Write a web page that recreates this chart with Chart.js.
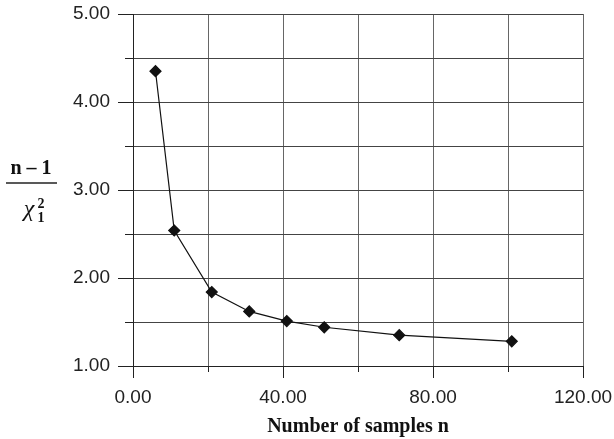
<!DOCTYPE html>
<html>
<head>
<meta charset="utf-8">
<script src="https://cdn.jsdelivr.net/npm/chart.js@4/dist/chart.umd.min.js"></script>
<style>
  html, body { margin: 0; padding: 0; background: #fff; }
  #wrap { position: relative; width: 614px; height: 439px; }
</style>
</head>
<body>
<div id="wrap"><canvas id="c" width="614" height="439"></canvas></div>
<script>
// Data
const sampleSizes = [6, 11, 21, 31, 41, 51, 71, 101];
const ratioValues = [4.35, 2.54, 1.84, 1.62, 1.51, 1.44, 1.35, 1.28];
const xLabelledTicks = [0, 40, 80, 120];
const yLabelledTicks = [1, 2, 3, 4, 5];
const xTitle = 'Number of samples n';
const yTitleTop = 'n \u2013 1';

const points = sampleSizes.map((x, i) => ({ x: x, y: ratioValues[i] }));

const tickPlugin = {
  id: 'customTicks',
  afterDraw(chart) {
    const ctx = chart.ctx;
    const xs = chart.scales.x, ys = chart.scales.y;
    const area = chart.chartArea;
    ctx.save();
    ctx.strokeStyle = '#222';
    ctx.lineWidth = 1;
    ys.ticks.forEach(t => {
      const py = Math.round(ys.getPixelForValue(t.value)) + 0.5;
      const major = yLabelledTicks.includes(t.value);
      const len = major ? 15 : 8;
      ctx.beginPath();
      ctx.moveTo(area.left - len, py);
      ctx.lineTo(area.left, py);
      ctx.stroke();
    });
    xs.ticks.forEach(t => {
      const px = Math.round(xs.getPixelForValue(t.value)) + 0.5;
      const major = xLabelledTicks.includes(t.value);
      const len = major ? 12 : 6;
      ctx.beginPath();
      ctx.moveTo(px, area.bottom);
      ctx.lineTo(px, area.bottom + len);
      ctx.stroke();
    });
    // Y-axis title as a fraction
    const cx = 31;
    const cy = (area.top + area.bottom) / 2;
    ctx.fillStyle = '#111';
    ctx.textAlign = 'center';
    ctx.textBaseline = 'middle';
    ctx.font = 'bold 20px "Liberation Serif", "Times New Roman", serif';
    ctx.fillText(yTitleTop, cx, cy - 21);
    ctx.beginPath();
    ctx.lineWidth = 1.4;
    ctx.moveTo(cx - 25, cy - 7);
    ctx.lineTo(cx + 26, cy - 7);
    ctx.stroke();
    ctx.font = 'italic 24px "Liberation Serif", "Times New Roman", serif';
    ctx.fillText('\u03C7', cx - 2, cy + 20);
    ctx.font = 'bold 14px "Liberation Serif", "Times New Roman", serif';
    ctx.fillText('2', cx + 10, cy + 14);
    ctx.fillText('1', cx + 10, cy + 28);
    ctx.restore();
  }
};

new Chart(document.getElementById('c'), {
  type: 'scatter',
  data: {
    datasets: [{
      data: points,
      showLine: true,
      borderColor: '#111',
      borderWidth: 1.2,
      backgroundColor: '#111',
      pointStyle: 'rectRot',
      pointRadius: 5.5,
      pointHoverRadius: 5.5,
      tension: 0
    }]
  },
  options: {
    responsive: false,
    animation: false,
    devicePixelRatio: 1,
    layout: { padding: { top: 14, right: 31, left: 0, bottom: 0 } },
    plugins: {
      legend: { display: false },
      tooltip: { enabled: false }
    },
    scales: {
      x: {
        type: 'linear',
        min: 0, max: 120,
        ticks: {
          stepSize: 20,
          autoSkip: false,
          maxRotation: 0,
          padding: 20,
          color: '#222',
          font: { family: '"Liberation Sans", Arial, sans-serif', size: 19 },
          callback: v => xLabelledTicks.includes(v) ? v.toFixed(2) : ''
        },
        grid: { color: '#666', lineWidth: 1, drawTicks: false },
        border: { color: '#222', width: 1 },
        title: {
          display: true,
          text: xTitle,
          color: '#111',
          font: { family: '"Liberation Serif", "Times New Roman", serif', size: 20, weight: 'bold' },
          padding: { top: 6, bottom: 0 }
        },
        afterFit(s) { s.height = 73; s.paddingLeft = 0; s.paddingRight = 0; }
      },
      y: {
        type: 'linear',
        min: 1, max: 5,
        ticks: {
          stepSize: 0.5,
          autoSkip: false,
          padding: 23,
          color: '#222',
          font: { family: '"Liberation Sans", Arial, sans-serif', size: 19 },
          callback: v => yLabelledTicks.includes(v) ? v.toFixed(2) : ''
        },
        grid: { color: '#444', lineWidth: 1, drawTicks: false },
        border: { color: '#222', width: 1 },
        afterFit(s) { s.width = 133; s.paddingTop = 0; s.paddingBottom = 0; }
      }
    }
  },
  plugins: [tickPlugin]
});
</script>
</body>
</html>
